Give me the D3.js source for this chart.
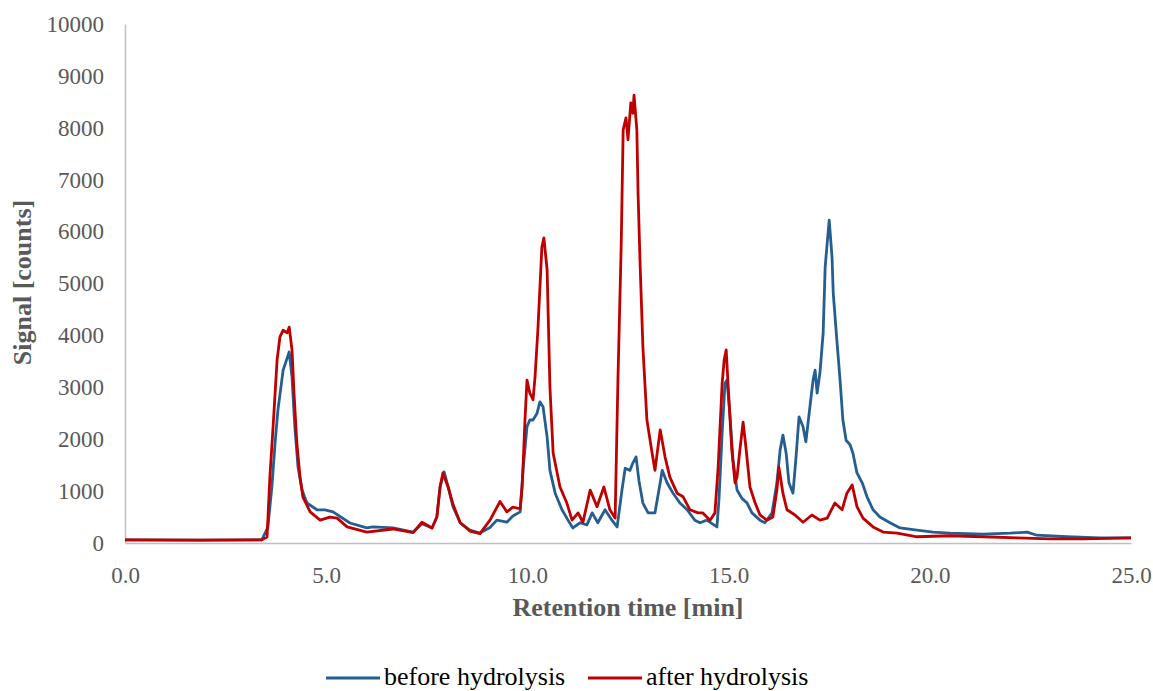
<!DOCTYPE html>
<html>
<head>
<meta charset="utf-8">
<script src="https://cdn.jsdelivr.net/npm/d3@7"></script>
<style>
  body { margin: 0; background: #fff; }
</style>
</head>
<body>
<div id="chart-container"></div>
<script>
const width = 1153;
const height = 691;
const font = "'Liberation Serif', 'Times New Roman', serif";

// retention time [min] and signal [counts]
const timeBefore = [0.00, 1.86, 3.40, 3.55, 3.65, 3.73, 3.80, 3.93, 4.08, 4.15, 4.22, 4.30, 4.40, 4.52, 4.77, 4.97, 5.17, 5.59, 6.01, 6.16, 6.66, 7.16, 7.38, 7.63, 7.75, 7.83, 7.93, 8.03, 8.15, 8.33, 8.57, 8.82, 9.07, 9.24, 9.49, 9.64, 9.82, 9.89, 9.99, 10.06, 10.14, 10.24, 10.31, 10.39, 10.49, 10.56, 10.69, 10.86, 11.01, 11.13, 11.31, 11.48, 11.61, 11.75, 11.93, 12.10, 12.23, 12.35, 12.43, 12.55, 12.62, 12.70, 12.77, 12.87, 13.00, 13.17, 13.30, 13.35, 13.47, 13.62, 13.79, 13.97, 14.16, 14.29, 14.46, 14.71, 14.76, 14.84, 14.91, 14.96, 15.03, 15.11, 15.21, 15.33, 15.46, 15.58, 15.78, 15.90, 16.08, 16.20, 16.28, 16.35, 16.43, 16.50, 16.60, 16.67, 16.75, 16.85, 16.92, 17.02, 17.10, 17.15, 17.20, 17.27, 17.35, 17.40, 17.45, 17.50, 17.57, 17.60, 17.69, 17.77, 17.84, 17.92, 18.02, 18.09, 18.19, 18.32, 18.44, 18.59, 18.76, 19.01, 19.26, 19.68, 20.08, 20.50, 21.32, 22.00, 22.42, 22.66, 23.41, 24.23, 25.00];
const signalBefore = [60, 55, 60, 300, 1080, 1930, 2560, 3330, 3680, 3200, 2240, 1460, 1020, 770, 640, 640, 600, 385, 290, 310, 290, 210, 370, 290, 500, 1080, 1370, 1080, 700, 390, 250, 190, 300, 440, 400, 520, 600, 1400, 2240, 2370, 2370, 2500, 2720, 2620, 2040, 1400, 960, 640, 440, 290, 390, 350, 580, 390, 640, 440, 310, 1020, 1440, 1400, 1540, 1660, 1210, 770, 580, 580, 1160, 1400, 1160, 960, 770, 640, 440, 390, 440, 310, 830, 2120, 3080, 3140, 2500, 1600, 1020, 860, 770, 580, 440, 390, 580, 1160, 1790, 2080, 1730, 1160, 960, 1600, 2430, 2240, 1950, 2620, 3140, 3330, 2890, 3280, 4050, 5320, 5780, 6220, 5510, 4820, 3910, 3140, 2370, 1980, 1890, 1730, 1350, 1160, 890, 640, 500, 390, 290, 250, 210, 190, 170, 190, 210, 150, 120, 100, 100];

const timeAfter = [0.00, 1.86, 3.40, 3.53, 3.60, 3.68, 3.78, 3.85, 3.93, 4.03, 4.08, 4.15, 4.20, 4.27, 4.35, 4.42, 4.60, 4.85, 5.09, 5.27, 5.52, 6.01, 6.66, 7.16, 7.38, 7.63, 7.75, 7.83, 7.90, 8.03, 8.15, 8.33, 8.57, 8.82, 9.07, 9.32, 9.49, 9.64, 9.82, 9.87, 9.94, 9.99, 10.06, 10.14, 10.19, 10.26, 10.36, 10.41, 10.49, 10.56, 10.64, 10.81, 10.98, 11.11, 11.26, 11.38, 11.56, 11.73, 11.90, 12.05, 12.18, 12.25, 12.33, 12.38, 12.45, 12.50, 12.57, 12.62, 12.65, 12.72, 12.75, 12.80, 12.87, 12.97, 13.10, 13.17, 13.30, 13.42, 13.54, 13.72, 13.87, 14.04, 14.24, 14.36, 14.54, 14.66, 14.74, 14.84, 14.89, 14.94, 14.99, 15.08, 15.16, 15.21, 15.28, 15.36, 15.43, 15.53, 15.66, 15.78, 15.95, 16.10, 16.20, 16.25, 16.35, 16.45, 16.65, 16.85, 17.07, 17.27, 17.45, 17.64, 17.82, 17.94, 18.07, 18.19, 18.34, 18.59, 18.84, 19.19, 19.68, 20.50, 21.32, 22.17, 22.99, 23.81, 25.00];
const signalAfter = [60, 55, 60, 115, 1270, 2240, 3530, 3970, 4100, 4050, 4160, 3720, 2890, 1930, 1270, 890, 600, 440, 500, 480, 310, 210, 270, 200, 400, 290, 500, 1080, 1350, 1080, 750, 390, 230, 180, 440, 800, 600, 690, 660, 1080, 2370, 3140, 2890, 2760, 3200, 4100, 5700, 5880, 5260, 3000, 1730, 1080, 770, 440, 580, 400, 1020, 700, 1080, 640, 480, 3140, 5700, 7960, 8190, 7770, 8480, 8280, 8630, 7960, 6740, 5390, 3780, 2370, 1730, 1400, 2180, 1660, 1270, 960, 890, 640, 580, 580, 440, 580, 1460, 3080, 3530, 3720, 3010, 1790, 1160, 1270, 1790, 2330, 1850, 1080, 770, 540, 440, 500, 1020, 1460, 960, 640, 540, 400, 540, 440, 480, 770, 640, 960, 1120, 700, 480, 310, 210, 190, 120, 140, 120, 100, 80, 80, 100];

const xTicks = [0, 5, 10, 15, 20, 25];
const yTicks = [0, 1000, 2000, 3000, 4000, 5000, 6000, 7000, 8000, 9000, 10000];
const seriesNames = ["before hydrolysis", "after hydrolysis"];
const seriesColors = ["#255E91", "#C00000"];

const margin = { top: 24, right: 22, bottom: 148, left: 125 };

const x = d3.scaleLinear([0, 25], [margin.left, width - margin.right]);
const y = d3.scaleLinear([0, 10000], [height - margin.bottom, margin.top]);

const svg = d3.select("#chart-container")
    .append("svg")
    .attr("viewBox", [0, 0, width, height])
    .attr("width", width)
    .attr("height", height)
    .attr("font-family", font)
    .style("display", "block");

// axes
svg.append("g")
    .attr("transform", `translate(${margin.left},0)`)
    .call(d3.axisLeft(y).tickValues(yTicks).tickSize(0).tickPadding(21).tickFormat(d3.format("d")))
    .call(g => g.attr("font-family", font))
    .call(g => g.select(".domain").attr("stroke", "#BFBFBF").attr("stroke-width", 1.5))
    .call(g => g.selectAll("text").attr("font-size", 23).attr("fill", "#595959"));

svg.append("g")
    .attr("transform", `translate(0,${height - margin.bottom})`)
    .call(d3.axisBottom(x).tickValues(xTicks).tickSize(0).tickPadding(24).tickFormat(d3.format(".1f")))
    .call(g => g.attr("font-family", font))
    .call(g => g.select(".domain").attr("stroke", "#BFBFBF").attr("stroke-width", 1.5))
    .call(g => g.selectAll("text").attr("font-size", 23).attr("fill", "#595959"));

// axis titles
svg.append("text")
    .attr("x", (margin.left + width - margin.right) / 2)
    .attr("y", 616)
    .attr("text-anchor", "middle")
    .attr("font-size", 26)
    .attr("font-weight", "bold")
    .attr("fill", "#595959")
    .text("Retention time [min]");

svg.append("text")
    .attr("transform", `translate(31,${y(5000) - 1}) rotate(-90)`)
    .attr("text-anchor", "middle")
    .attr("font-size", 26)
    .attr("font-weight", "bold")
    .attr("fill", "#595959")
    .text("Signal [counts]");

// traces
const line = d3.line()
    .x(d => x(d[0]))
    .y(d => y(d[1]));

const series = [
    d3.zip(timeBefore, signalBefore),
    d3.zip(timeAfter, signalAfter)
];

svg.append("g")
    .selectAll("path")
    .data(series)
    .join("path")
    .attr("fill", "none")
    .attr("stroke", (d, i) => seriesColors[i])
    .attr("stroke-width", 2.8)
    .attr("stroke-linejoin", "round")
    .attr("d", line);

// legend
const legend = svg.append("g")
    .selectAll("g")
    .data(seriesNames)
    .join("g")
    .attr("transform", (d, i) => `translate(${[326, 588][i]},678)`);

legend.append("line")
    .attr("x1", 0)
    .attr("x2", 54)
    .attr("stroke", (d, i) => seriesColors[i])
    .attr("stroke-width", 2.8);

legend.append("text")
    .attr("x", 58)
    .attr("y", 7)
    .attr("font-size", 26)
    .attr("fill", "#000")
    .text(d => d);
</script>
</body>
</html>
